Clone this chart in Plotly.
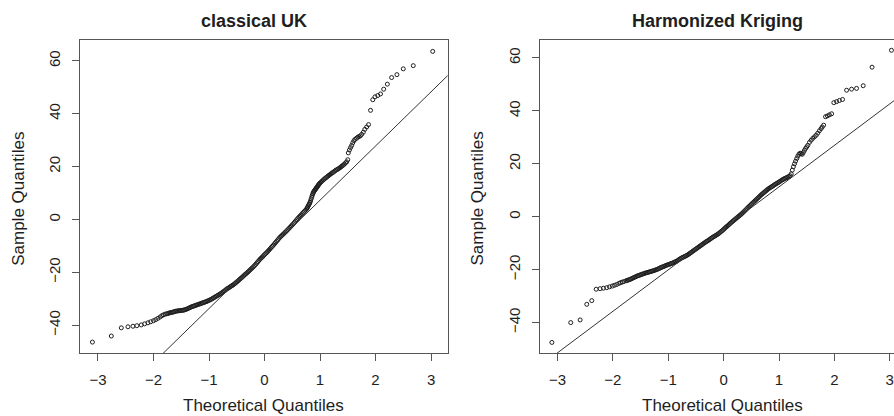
import plotly.graph_objects as go

# ---------------- data ----------------
# Panel 1: classical UK  (theoretical quantile, sample quantile)
uk_low_x = [-3.10, -2.76, -2.58, -2.46, -2.37, -2.30, -2.22, -2.16, -2.10, -2.05,
            -2.00, -1.96, -1.92, -1.88, -1.85, -1.82, -1.79]
uk_low_y = [-46.4, -44.1, -41.0, -40.6, -40.4, -40.2, -39.9, -39.5, -39.1, -38.7,
            -38.3, -37.9, -37.4, -36.9, -36.4, -36.1, -35.8]
uk_core_x = [-1.76, -1.74, -1.72, -1.70, -1.68, -1.66, -1.64, -1.62, -1.60, -1.58,
             -1.56, -1.54, -1.52, -1.50, -1.48, -1.46, -1.44, -1.42, -1.40, -1.38,
             -1.36, -1.34, -1.32, -1.30, -1.28, -1.26, -1.24, -1.22, -1.20, -1.18,
             -1.16, -1.14, -1.12, -1.10, -1.08, -1.06, -1.04, -1.02, -1.00, -0.98,
             -0.96, -0.94, -0.92, -0.90, -0.88, -0.86, -0.84, -0.82, -0.80, -0.78,
             -0.76, -0.74, -0.72, -0.70, -0.68, -0.66, -0.64, -0.62, -0.60, -0.58,
             -0.56, -0.54, -0.52, -0.50, -0.48, -0.46, -0.44, -0.42, -0.40, -0.38,
             -0.36, -0.34, -0.32, -0.30, -0.28, -0.26, -0.24, -0.22, -0.20, -0.18,
             -0.16, -0.14, -0.12, -0.10, -0.08, -0.06, -0.04, -0.02, 0.00, 0.02,
             0.04, 0.06, 0.08, 0.10, 0.12, 0.14, 0.16, 0.18, 0.20, 0.22,
             0.24, 0.26, 0.28, 0.30, 0.32, 0.34, 0.36, 0.38, 0.40, 0.42,
             0.44, 0.46, 0.48, 0.50, 0.52, 0.54, 0.56, 0.58, 0.60, 0.62,
             0.64, 0.66, 0.68, 0.70, 0.72, 0.74, 0.76, 0.77, 0.78, 0.79,
             0.80, 0.81, 0.82, 0.83, 0.84, 0.85, 0.86, 0.87, 0.88, 0.89,
             0.90, 0.91, 0.92, 0.93, 0.94, 0.95, 0.96, 0.97, 0.98, 0.99,
             1.00, 1.02, 1.04, 1.06, 1.08, 1.10, 1.12, 1.14, 1.16, 1.18,
             1.20, 1.22, 1.24, 1.26, 1.28, 1.30, 1.32, 1.34, 1.36, 1.38,
             1.40, 1.42, 1.44, 1.46, 1.48, 1.50]
uk_core_y = [-35.7, -35.55, -35.4, -35.3, -35.2, -35.1, -35.0, -34.85, -34.7, -34.65,
             -34.6, -34.55, -34.5, -34.45, -34.4, -34.3, -34.2, -34.05, -33.9, -33.7,
             -33.5, -33.3, -33.1, -32.95, -32.8, -32.65, -32.5, -32.35, -32.2, -32.05,
             -31.9, -31.75, -31.6, -31.45, -31.3, -31.15, -31.0, -30.8, -30.6, -30.4,
             -30.2, -29.95, -29.7, -29.45, -29.2, -28.95, -28.7, -28.45, -28.2, -27.9,
             -27.6, -27.3, -27.0, -26.65, -26.3, -26.05, -25.8, -25.5, -25.2, -24.95,
             -24.7, -24.35, -24.0, -23.65, -23.3, -22.9, -22.5, -22.15, -21.8, -21.4,
             -21.0, -20.65, -20.3, -19.9, -19.5, -19.1, -18.7, -18.3, -17.9, -17.45,
             -17.0, -16.5, -16.0, -15.5, -15.0, -14.6, -14.2, -13.75, -13.3, -12.9,
             -12.5, -12.05, -11.6, -11.1, -10.6, -10.15, -9.7, -9.2, -8.7, -8.2,
             -7.7, -7.2, -6.7, -6.3, -5.9, -5.5, -5.1, -4.7, -4.3, -3.85,
             -3.4, -2.95, -2.5, -2.05, -1.6, -1.1, -0.6, -0.1, 0.4, 0.85,
             1.3, 1.75, 2.2, 2.65, 3.1, 3.55, 4.0, 4.4, 4.8, 5.2,
             5.6, 6.0, 6.5, 7.1, 7.8, 8.4, 9.1, 9.7, 10.2, 10.6,
             10.9, 11.2, 11.5, 11.8, 12.1, 12.4, 12.7, 13.0, 13.3, 13.55,
             13.8, 14.2, 14.6, 15.0, 15.35, 15.7, 16.0, 16.35, 16.7, 17.0,
             17.35, 17.65, 17.9, 18.25, 18.55, 18.8, 19.05, 19.3, 19.6, 19.95,
             20.3, 20.6, 21.0, 21.4, 21.8, 22.6]
uk_high_x = [1.51, 1.53, 1.55, 1.57, 1.59, 1.61, 1.63, 1.655, 1.68, 1.70, 1.725, 1.75, 1.78,
             1.806, 1.84, 1.874, 1.91, 1.95, 1.99, 2.04, 2.09, 2.147, 2.213, 2.29, 2.385,
             2.50, 2.68, 3.03]
uk_high_y = [25.2, 26.3, 27.2, 28.0, 29.0, 29.8, 30.3, 30.7, 31.1, 31.4, 31.6, 32.2, 33.0,
             34.1, 35.0, 35.9, 41.3, 45.3, 46.4, 46.9, 47.5, 49.3, 51.2, 53.7, 54.8,
             57.0, 58.2, 63.6]
uk_line = (-13.2, 20.5)   # intercept, slope of the qq line

# Panel 2: Harmonized Kriging
hk_low_x = [-3.10, -2.76, -2.59, -2.47, -2.38, -2.30, -2.23, -2.17, -2.11, -2.06,
            -2.01, -1.97, -1.93, -1.89, -1.86, -1.83, -1.80]
hk_low_y = [-47.5, -40.0, -39.0, -33.1, -31.7, -27.4, -27.2, -27.0, -26.8, -26.5,
            -26.2, -25.9, -25.6, -25.2, -24.9, -24.7, -24.5]
hk_core_x = [-1.76, -1.74, -1.72, -1.70, -1.68, -1.66, -1.64, -1.62, -1.60, -1.58,
             -1.56, -1.54, -1.52, -1.50, -1.48, -1.46, -1.44, -1.42, -1.40, -1.38,
             -1.36, -1.34, -1.32, -1.30, -1.28, -1.26, -1.24, -1.22, -1.20, -1.18,
             -1.16, -1.14, -1.12, -1.10, -1.08, -1.06, -1.04, -1.02, -1.00, -0.98,
             -0.96, -0.94, -0.92, -0.90, -0.88, -0.86, -0.84, -0.82, -0.80, -0.78,
             -0.76, -0.74, -0.72, -0.70, -0.68, -0.66, -0.64, -0.62, -0.60, -0.58,
             -0.56, -0.54, -0.52, -0.50, -0.48, -0.46, -0.44, -0.42, -0.40, -0.38,
             -0.36, -0.34, -0.32, -0.30, -0.28, -0.26, -0.24, -0.22, -0.20, -0.18,
             -0.16, -0.14, -0.12, -0.10, -0.08, -0.06, -0.04, -0.02, 0.00, 0.02,
             0.04, 0.06, 0.08, 0.10, 0.12, 0.14, 0.16, 0.18, 0.20, 0.22,
             0.24, 0.26, 0.28, 0.30, 0.32, 0.34, 0.36, 0.38, 0.40, 0.42,
             0.44, 0.46, 0.48, 0.50, 0.52, 0.54, 0.56, 0.58, 0.60, 0.62,
             0.64, 0.66, 0.68, 0.70, 0.72, 0.74, 0.76, 0.78, 0.80, 0.82,
             0.84, 0.86, 0.88, 0.90, 0.92, 0.94, 0.96, 0.98, 1.00, 1.02,
             1.04, 1.06, 1.08, 1.10, 1.12, 1.14, 1.16, 1.18, 1.20]
hk_core_y = [-24.2, -24.05, -23.9, -23.75, -23.6, -23.4, -23.2, -23.0, -22.8, -22.6,
             -22.4, -22.25, -22.1, -21.95, -21.8, -21.65, -21.5, -21.35, -21.2, -21.1,
             -21.0, -20.85, -20.7, -20.6, -20.5, -20.35, -20.2, -20.05, -19.9, -19.7,
             -19.5, -19.3, -19.1, -18.95, -18.8, -18.6, -18.4, -18.25, -18.1, -17.95,
             -17.8, -17.65, -17.5, -17.3, -17.1, -16.9, -16.7, -16.4, -16.1, -15.85,
             -15.6, -15.4, -15.2, -15.0, -14.8, -14.55, -14.3, -14.0, -13.7, -13.4,
             -13.1, -12.8, -12.5, -12.2, -11.9, -11.6, -11.3, -11.0, -10.7, -10.4,
             -10.1, -9.8, -9.5, -9.25, -9.0, -8.7, -8.4, -8.1, -7.8, -7.55,
             -7.3, -7.05, -6.8, -6.5, -6.2, -5.85, -5.5, -5.15, -4.8, -4.4,
             -4.0, -3.65, -3.3, -2.9, -2.5, -2.15, -1.8, -1.45, -1.1, -0.75,
             -0.4, -0.05, 0.3, 0.65, 1.0, 1.4, 1.8, 2.2, 2.6, 3.05,
             3.5, 3.9, 4.3, 4.7, 5.1, 5.5, 5.9, 6.3, 6.7, 7.1,
             7.5, 7.9, 8.3, 8.65, 9.0, 9.35, 9.7, 10.05, 10.4, 10.7,
             11.0, 11.25, 11.5, 11.8, 12.1, 12.35, 12.6, 12.85, 13.1, 13.4,
             13.7, 13.95, 14.2, 14.4, 14.6, 14.8, 15.0, 15.25, 15.5]
hk_high_x = [1.22, 1.24, 1.26, 1.28, 1.30, 1.32, 1.34, 1.36, 1.38, 1.40, 1.42, 1.44, 1.46,
             1.48, 1.50, 1.52, 1.55, 1.58, 1.61, 1.64, 1.67, 1.70, 1.73, 1.76, 1.78, 1.806,
             1.84, 1.874, 1.91, 1.95, 1.99, 2.04, 2.09, 2.147, 2.22, 2.31, 2.40, 2.52,
             2.68, 3.03]
hk_high_y = [16.2, 17.6, 18.9, 20.0, 21.0, 22.0, 22.9, 23.6, 24.0, 23.8, 23.6, 24.3, 25.1,
             25.8, 26.4, 27.0, 28.1, 28.9, 29.6, 30.2, 30.8, 31.6, 32.5, 33.3, 33.9, 34.6,
             37.8, 38.1, 38.5, 38.9, 43.1, 43.5, 43.9, 44.3, 47.8, 48.2, 48.5, 49.5,
             56.5, 62.9]
hk_line = (-4.4, 15.68)

titles = ["classical UK", "Harmonized Kriging"]
x_label = "Theoretical Quantiles"
y_label = "Sample Quantiles"
x_ticks = [-3, -2, -1, 0, 1, 2, 3]
y_ticks = [-40, -20, 0, 20, 40, 60]

# ---------------- figure ----------------
W, H = 894, 416
FONT = "Liberation Sans, Arial, Helvetica, sans-serif"
INK = "#1e1e1e"
FRAME = "#555555"

x1_range = [-3.324, 3.30]
x2_range = [-3.32, 3.076]
y1_range = [-50.6, 68.1]
y2_range = [-51.57, 66.97]

uk_x = uk_low_x + uk_core_x + uk_high_x
uk_y = uk_low_y + uk_core_y + uk_high_y
hk_x = hk_low_x + hk_core_x + hk_high_x
hk_y = hk_low_y + hk_core_y + hk_high_y

fig = go.Figure()

marker = dict(symbol="circle-open", size=4, color=INK, line=dict(width=1, color=INK))

fig.add_trace(go.Scatter(x=uk_x, y=uk_y, mode="markers", marker=marker,
                         xaxis="x", yaxis="y", showlegend=False))
fig.add_trace(go.Scatter(x=hk_x, y=hk_y, mode="markers", marker=marker,
                         xaxis="x2", yaxis="y2", showlegend=False))

for (b, m), rng, xa, ya in [(uk_line, x1_range, "x", "y"), (hk_line, x2_range, "x2", "y2")]:
    lx = [rng[0] - 1, rng[1] + 1]
    fig.add_trace(go.Scatter(x=lx, y=[b + m * v for v in lx], mode="lines",
                             line=dict(color="#333333", width=1),
                             xaxis=xa, yaxis=ya, showlegend=False, hoverinfo="skip"))


def px_x(p):
    return p / W


def px_y(p):
    return 1 - p / H


ydom = [px_y(353.2), px_y(39.5)]

common_x = dict(tickvals=x_ticks, ticktext=[str(t).replace("-", "\u2212") for t in x_ticks],
                ticks="outside", ticklen=7, tickcolor=FRAME, tickwidth=1,
                showline=True, linecolor=FRAME, linewidth=1, showgrid=False, zeroline=False,
                tickfont=dict(family=FONT, size=15, color=INK), ticklabelstandoff=6,
                ticklabeloverflow="allow")
common_y = dict(tickvals=y_ticks, ticktext=[str(t).replace("-", "\u2212") for t in y_ticks],
                ticks="outside", ticklen=7, tickcolor=FRAME, tickwidth=1, tickangle=-90,
                showline=True, linecolor=FRAME, linewidth=1, showgrid=False, zeroline=False,
                tickfont=dict(family=FONT, size=15, color=INK), ticklabelstandoff=6,
                ticklabeloverflow="allow")

fig.update_layout(
    width=W, height=H,
    margin=dict(l=0, r=0, t=0, b=0),
    paper_bgcolor="white", plot_bgcolor="white",
    xaxis=dict(domain=[px_x(80), px_x(447.7)], range=x1_range, anchor="y", mirror=True, **common_x),
    yaxis=dict(domain=ydom, range=y1_range, anchor="x", mirror=True, **common_y),
    xaxis2=dict(domain=[px_x(539.7), 1.0], range=x2_range, anchor="y2", mirror=True, **common_x),
    yaxis2=dict(domain=ydom, range=y2_range, anchor="x2", mirror=False, **common_y),
)

ann = []
for t, cx in zip(titles, [253.5, 717.8]):
    ann.append(dict(text="<b>%s</b>" % t, x=px_x(cx), y=px_y(21), xref="paper", yref="paper",
                    xanchor="center", yanchor="middle", showarrow=False,
                    font=dict(family=FONT, size=18, color=INK)))
for cx in [263.8, 722.5]:
    ann.append(dict(text=x_label, x=px_x(cx), y=px_y(405), xref="paper", yref="paper",
                    xanchor="center", yanchor="middle", showarrow=False,
                    font=dict(family=FONT, size=17, color=INK)))
for cx in [18.3, 477]:
    ann.append(dict(text=y_label, x=px_x(cx), y=px_y(198.5), xref="paper", yref="paper",
                    xanchor="center", yanchor="middle", showarrow=False, textangle=-90,
                    font=dict(family=FONT, size=17, color=INK)))
fig.update_layout(annotations=ann)

fig.write_html("out.html", config={"displayModeBar": False},
               post_script="document.body.style.margin='0px';"
                           "document.body.style.overflow='hidden';")
